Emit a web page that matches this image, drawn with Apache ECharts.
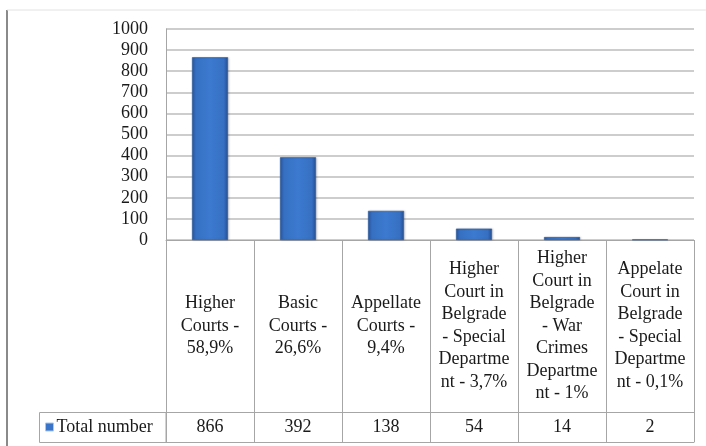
<!DOCTYPE html>
<html>
<head>
<meta charset="utf-8">
<script src="https://cdn.jsdelivr.net/npm/echarts@6/dist/echarts.min.js"></script>
<style>
  html, body { margin: 0; padding: 0; background: #ffffff; }
  #chart { width: 706px; height: 446px; }
</style>
</head>
<body>
<div id="chart"></div>
<script>
// Court categories (line breaks as shown in the data table cells)
const categories = [
  'Higher\nCourts -\n58,9%',
  'Basic\nCourts -\n26,6%',
  'Appellate\nCourts -\n9,4%',
  'Higher\nCourt in\nBelgrade\n- Special\nDepartme\nnt - 3,7%',
  'Higher\nCourt in\nBelgrade\n- War\nCrimes\nDepartme\nnt - 1%',
  'Appelate\nCourt in\nBelgrade\n- Special\nDepartme\nnt - 0,1%'
];
const seriesName = 'Total number';
const totals = [866, 392, 138, 54, 14, 2];
const yTicks = { min: 0, max: 1000, step: 100 };

const FONT = 'Liberation Serif';
const TEXT = '#1a1a1a';
const LINE = '#a6a6a6';

const chart = echarts.init(document.getElementById('chart'), null, { renderer: 'canvas' });

chart.setOption({
  animation: false,
  backgroundColor: '#ffffff',
  textStyle: { fontFamily: FONT },
  grid: { left: 166, right: 12, top: 29, bottom: 206, containLabel: false },
  legend: {
    show: true,
    data: [seriesName],
    left: 45,
    top: 418,
    icon: 'rect',
    itemWidth: 8,
    itemHeight: 8,
    itemGap: 0,
    padding: 0,
    selectedMode: false,
    itemStyle: { color: '#3a74c8', borderColor: '#a9c8ee', borderWidth: 1 },
    textStyle: { fontFamily: FONT, fontSize: 18, color: TEXT, padding: [0, 0, 0, -2] }
  },
  xAxis: [
    {
      // category labels inside the data table cells; ticks form the cell dividers
      type: 'category',
      data: categories,
      boundaryGap: true,
      axisLine: { show: true, lineStyle: { color: LINE, width: 1 } },
      axisTick: { show: true, interval: 0, length: 202, lineStyle: { color: LINE, width: 1 } },
      axisLabel: {
        interval: 0,
        margin: 86,
        verticalAlign: 'middle',
        align: 'center',
        fontFamily: FONT,
        fontSize: 18,
        lineHeight: 22.5,
        color: TEXT
      },
      splitLine: { show: false }
    },
    {
      // values row of the data table
      type: 'category',
      data: totals.map(String),
      position: 'bottom',
      offset: 172,
      axisLine: { show: true, lineStyle: { color: LINE, width: 1 } },
      axisTick: { show: false },
      axisLabel: {
        interval: 0,
        margin: 15,
        verticalAlign: 'middle',
        fontFamily: FONT,
        fontSize: 18,
        color: TEXT
      }
    },
    {
      // bottom edge of the data table
      type: 'category',
      data: categories,
      position: 'bottom',
      offset: 202,
      axisLine: { show: true, lineStyle: { color: LINE, width: 1 } },
      axisTick: { show: false },
      axisLabel: { show: false }
    }
  ],
  yAxis: {
    type: 'value',
    min: yTicks.min,
    max: yTicks.max,
    interval: yTicks.step,
    axisLine: { show: true, lineStyle: { color: LINE, width: 1 } },
    axisTick: { show: false },
    axisLabel: {
      margin: 18,
      fontFamily: FONT,
      fontSize: 18,
      color: TEXT,
      formatter: (v) => String(v)
    },
    splitLine: { show: true, lineStyle: { color: '#bdbdbd', width: 1.7 } }
  },
  series: [
    {
      name: seriesName,
      type: 'bar',
      xAxisIndex: 0,
      data: totals,
      barWidth: 36,
      itemStyle: {
        color: new echarts.graphic.LinearGradient(0, 0, 1, 0, [
          { offset: 0, color: '#2a5aa3' },
          { offset: 0.12, color: '#3670c2' },
          { offset: 0.5, color: '#3c7ad0' },
          { offset: 0.88, color: '#3670c2' },
          { offset: 1, color: '#264f90' }
        ]),
        borderColor: '#2b5696',
        borderWidth: 0.6,
        shadowColor: 'rgba(0,0,0,0.15)',
        shadowBlur: 2,
        shadowOffsetX: 1
      }
    }
  ],
  graphic: [
    // outer frame
    { type: 'line', shape: { x1: 7, y1: 10, x2: 7, y2: 446 }, style: { stroke: '#8a8a8a', lineWidth: 2 }, silent: true },
    { type: 'line', shape: { x1: 7, y1: 10, x2: 706, y2: 10 }, style: { stroke: '#e2e2e2', lineWidth: 1 }, silent: true },
    // series header cell of the data table
    { type: 'rect', shape: { x: 39.5, y: 412.5, width: 126.5, height: 30 }, style: { fill: 'none', stroke: LINE, lineWidth: 1 }, silent: true, z: 0 }
  ]
});
</script>
</body>
</html>
